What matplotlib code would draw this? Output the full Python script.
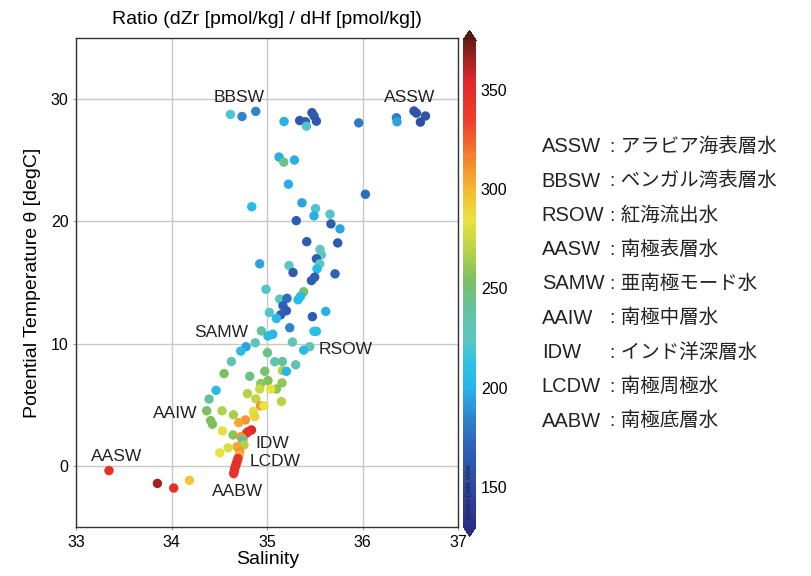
import matplotlib
matplotlib.use("Agg")
import matplotlib.pyplot as plt
from matplotlib.colors import LinearSegmentedColormap, Normalize

plt.rcParams['font.family'] = ['Liberation Sans', 'Noto Sans CJK JP', 'DejaVu Sans']

# Salinity, potential temperature and Zr/Hf ratio for each sample
salinity = [
    34.615, 34.736, 34.880, 35.176, 35.340, 35.400, 35.411, 35.469, 35.490, 35.515,
    35.958, 36.353, 36.359, 36.537, 36.562, 36.657, 36.604,
    35.124, 35.173, 35.285, 35.222, 36.028, 34.838, 35.364, 35.506, 35.490,
    35.658, 35.304, 35.667, 35.762, 35.414, 35.738, 35.553, 35.568, 35.515,
    35.550, 35.521, 35.497, 35.463, 34.921, 35.228, 35.270, 35.710, 34.987,
    35.382, 35.348, 35.323, 35.131, 35.207, 35.165, 35.201, 35.141, 35.023,
    35.096, 35.613, 35.473, 35.236, 35.490, 35.515, 34.939, 35.058, 35.008,
    34.874, 34.778, 34.723, 35.264, 35.445, 35.382, 35.002, 35.079, 35.159,
    35.298, 34.625, 34.548, 34.817, 34.974, 35.159, 35.201, 35.008, 34.932,
    35.155, 35.096, 34.921, 35.037, 34.464, 34.793, 34.391, 34.880, 35.149,
    34.929, 34.966, 34.855, 34.869, 34.366, 34.527, 34.646, 34.408, 34.426,
    34.772, 34.702, 34.835, 34.799, 34.782, 34.531, 34.642, 34.723, 34.747,
    34.740, 34.757, 34.684, 34.590, 34.503, 34.712, 34.705, 34.694, 34.685,
    34.677, 34.668, 34.660, 34.655, 34.649,
    33.343, 33.850, 34.021, 34.185,
]
theta = [
    28.75, 28.58, 29.00, 28.17, 28.25, 28.15, 27.79, 28.89, 28.62, 28.20,
    28.06, 28.48, 28.15, 29.03, 28.86, 28.62, 28.12,
    25.26, 24.85, 25.02, 23.04, 22.22, 21.20, 21.52, 21.05, 20.45,
    20.59, 20.06, 19.80, 19.39, 18.34, 18.24, 17.71, 17.27, 16.94,
    16.53, 16.12, 15.44, 15.16, 16.53, 16.39, 15.82, 15.71, 14.45,
    14.25, 13.87, 13.59, 13.65, 13.71, 13.10, 12.69, 12.36, 12.55,
    12.06, 12.64, 12.21, 11.30, 11.01, 11.01, 11.04, 10.77, 10.63,
    10.07, 9.75, 9.39, 10.13, 9.75, 9.47, 9.26, 8.52, 8.54,
    8.27, 8.54, 7.55, 7.33, 7.74, 7.80, 7.74, 6.98, 6.73,
    6.79, 6.29, 6.29, 6.29, 6.18, 5.91, 5.47, 5.49, 5.27,
    4.92, 4.92, 4.45, 4.04, 4.51, 4.51, 4.18, 3.71, 3.41,
    3.76, 3.54, 2.94, 2.80, 2.67, 2.86, 2.53, 2.39, 2.17,
    2.12, 1.71, 1.57, 1.48, 1.07, 1.15, 0.88, 0.61, 0.40,
    0.20, 0.00, -0.21, -0.42, -0.63,
    -0.38, -1.43, -1.81, -1.18,
]
ratio = [
    220, 185, 185, 198, 160, 165, 222, 160, 165, 160,
    180, 180, 195, 158, 158, 160, 155,
    198, 245, 198, 198, 175, 205, 195, 220, 198,
    222, 165, 165, 195, 165, 165, 225, 225, 165,
    225, 205, 165, 165, 195, 225, 165, 170, 222,
    250, 205, 205, 225, 175, 170, 165, 165, 222,
    205, 198, 165, 185, 210, 210, 240, 200, 205,
    228, 195, 205, 228, 230, 205, 245, 232, 240,
    235, 232, 255, 245, 252, 268, 200, 255, 258,
    260, 258, 275, 285, 205, 268, 240, 272, 270,
    310, 285, 283, 290, 255, 268, 265, 255, 255,
    310, 305, 355, 350, 345, 283, 258, 310, 305,
    240, 268, 305, 280, 285, 310, 300, 340, 345,
    345, 348, 345, 348, 345,
    348, 365, 348, 295,
]

# water mass labels: name, salinity, theta, horizontal alignment
label_names = ["BBSW", "ASSW", "SAMW", "RSOW", "AAIW", "IDW", "LCDW", "AABW", "AASW"]
label_sal = [34.71, 36.49, 34.80, 35.54, 34.27, 34.88, 34.82, 34.69, 33.42]
label_theta = [30.1, 30.1, 10.9, 9.5, 4.3, 1.85, 0.4, -2.1, 0.8]
label_ha = ["center", "center", "right", "left", "right", "left", "left", "center", "center"]

legend_abbr = ["ASSW", "BBSW", "RSOW", "AASW", "SAMW", "AAIW", "IDW", "LCDW", "AABW"]
legend_jp = ["アラビア海表層水", "ベンガル湾表層水", "紅海流出水", "南極表層水",
             "亜南極モード水", "南極中層水", "インド洋深層水", "南極周極水", "南極底層水"]

# Ocean Data View style colour scale
cb_vals = [130, 150, 170, 185, 200, 212, 225, 240, 255, 270, 285, 300, 315, 335, 355, 375]
cb_cols = ["#2a2e8c", "#2c4aa3", "#2e62b6", "#2f86cc", "#27b5ea", "#2cc3e6", "#5ec6c0",
           "#63c29c", "#7dc15e", "#b9d446", "#e8e340", "#f6b833", "#f3862e", "#ee3e2a",
           "#e0282a", "#6e1c18"]
vmin, vmax = 130, 375
cmap = LinearSegmentedColormap.from_list(
    "odv", [((v - vmin) / (vmax - vmin), c) for v, c in zip(cb_vals, cb_cols)])
cmap.set_over("#5a1a14")
cmap.set_under("#2a2e80")
norm = Normalize(vmin=vmin, vmax=vmax)

fig = plt.figure(figsize=(8.11, 5.76), dpi=100)
ax = fig.add_axes([0.094, 0.085, 0.471, 0.849])

sc = ax.scatter(salinity, theta, c=ratio, cmap=cmap, norm=norm, s=46,
                edgecolors="none", zorder=3)

ax.set_xlim(33, 37)
ax.set_ylim(-5, 35)
ax.set_xticks([33, 34, 35, 36, 37])
ax.set_yticks([0, 10, 20, 30])
ax.grid(True, color="#c8c8c8", linewidth=1.0, zorder=0)
ax.tick_params(labelsize=11.5, length=2, color="#999999")
for sp in ax.spines.values():
    sp.set_linewidth(1.0)
    sp.set_color("#333333")

ax.set_xlabel("Salinity", fontsize=14, labelpad=1)
ax.set_ylabel("Potential Temperature θ [degC]", fontsize=14, labelpad=7)
ax.set_title("Ratio (dZr [pmol/kg] / dHf [pmol/kg])", fontsize=14, pad=10)

for name, s, t, ha in zip(label_names, label_sal, label_theta, label_ha):
    ax.text(s, t, name, fontsize=12.5, ha=ha, va="center", color="#222222", zorder=4)

# colour bar
cax = fig.add_axes([0.571, 0.069, 0.016, 0.878])
cb = fig.colorbar(sc, cax=cax, extend="both", extendfrac=0.02)
cb.set_ticks([150, 200, 250, 300, 350])
cb.ax.tick_params(labelsize=11.5, length=0)
cb.outline.set_visible(False)
cax.text(0.5, 0.015, "Ocean Data View", rotation=90, fontsize=5, ha="center",
         va="bottom", transform=cax.transAxes, color="#222222")

# water mass names
y0 = 0.745
dy = 0.0595
for i, (a, j) in enumerate(zip(legend_abbr, legend_jp)):
    y = y0 - i * dy
    fig.text(0.668, y, a, fontsize=14.5, va="center", color="#222222")
    fig.text(0.752, y, ": " + j, fontsize=14, va="center", color="#222222")

fig.savefig("out.png", dpi=100)
